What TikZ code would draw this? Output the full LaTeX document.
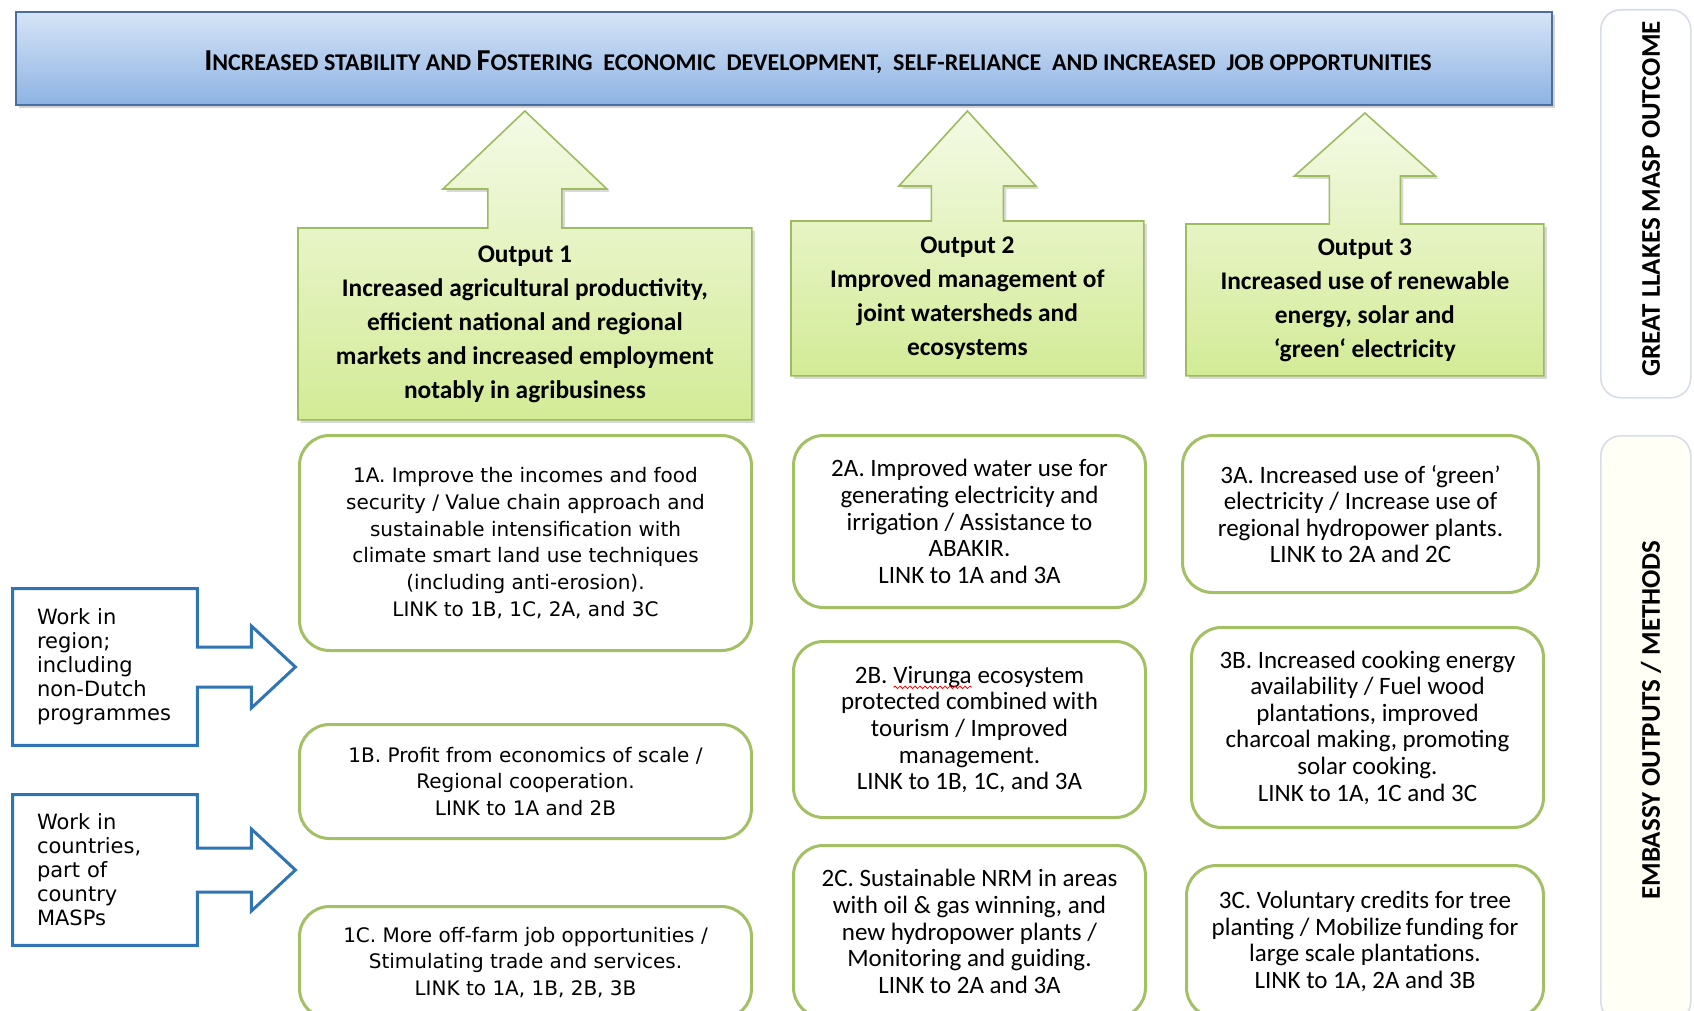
\documentclass[tikz,border=0pt]{standalone}
\usepackage{fontspec}
\setmainfont{Carlito}
\newfontfamily\verdfont{DejaVu Sans}
\usepackage{tikz}
\usepackage{xcolor}
\usetikzlibrary{positioning,calc,shadows,backgrounds,decorations.pathmorphing}
\definecolor{SkyTop}{HTML}{D6E4F7}
\definecolor{SkyBot}{HTML}{8EB3E3}
\definecolor{SkyLine}{HTML}{4C6E9E}
\definecolor{LeafTop}{HTML}{F4FAE6}
\definecolor{LeafBot}{HTML}{D3EB96}
\definecolor{LeafLine}{HTML}{9DBB5F}
\definecolor{Olive}{HTML}{A3C064}
\definecolor{Azure}{HTML}{2F75B5}
\definecolor{Mist}{HTML}{D6DDE7}
\definecolor{Ivory}{HTML}{FFFFF5}
\newcommand\capfirst[1]{{\fontsize{15.2}{15.2}\selectfont #1}}
\newcommand\spellmark[1]{\tikz[baseline=(sw.base),x=1pt,y=1pt]{%
  \node[shape=rectangle,draw=none,fill=none,inner sep=0pt,outer sep=0pt,minimum width=0pt,
    minimum height=0pt,anchor=base,sharp corners,align=left] (sw) at (0,0) {#1};
  \draw[red,line width=0.4pt,fill=none,sharp corners,decorate,
    decoration={snake,amplitude=0.6pt,segment length=2.5pt}]
    ([yshift=-2pt]sw.base west) -- ([yshift=-2pt]sw.base east);}}
\tikzset{
  goalbar/.style={draw=SkyLine, line width=0.8pt, top color=SkyTop, bottom color=SkyBot,
    drop shadow={opacity=0.35,shadow xshift=1.5pt,shadow yshift=-1.5pt}, inner sep=0pt, anchor=north west},
  goaltext/.style={font=\fontsize{12}{12}\selectfont\bfseries, inner sep=0pt},
  outshape/.style={draw=LeafLine, line width=0.8pt, top color=LeafTop, bottom color=LeafBot,
    drop shadow={opacity=0.3,shadow xshift=1.5pt,shadow yshift=-1.5pt}},
  outtext/.style={font=\fontsize{12.7}{17}\selectfont\bfseries, align=center, inner sep=0pt, anchor=north west},
  linkbox/.style={draw=Olive, line width=1.5pt, rounded corners=15pt, fill=white, align=center,
    inner sep=0pt, anchor=north west, font=\fontsize{12.5}{13.3}\selectfont},
  linkwide/.style={linkbox, font=\verdfont\fontsize{10}{13.4}\selectfont},
  workbox/.style={align=left, text width=68pt, inner xsep=12pt, inner ysep=0pt, minimum width=92pt,
    font=\verdfont\fontsize{10.5}{12}\selectfont},
  workline/.style={draw=Azure, line width=1.5pt},
  sidebox/.style={draw=Mist, line width=0.8pt, rounded corners=10pt, inner sep=0pt, anchor=north west},
  sidetext/.style={rotate=90, font=\fontsize{13.5}{13.5}\selectfont\bfseries}
}

\begin{document}
\begin{tikzpicture}[x=0.5pt,y=-0.5pt]
  \useasboundingbox (0,0) rectangle (1694,1011);

  % outcome bar
  \node[goalbar, minimum width=768pt, minimum height=46.5pt] (goal) at (15,11) {};
  \node[goaltext] (goalline) at (818,62) {\capfirst{I}NCREASED STABILITY AND \capfirst{F}OSTERING\ \ ECONOMIC\ \ DEVELOPMENT,\ \ SELF-RELIANCE\ \ AND INCREASED\ \ JOB OPPORTUNITIES};

  % side labels
  \node[sidebox, fill=white, minimum width=45pt, minimum height=194pt] (sidetop) at (1600,9) {};
  \node[sidebox, fill=Ivory, minimum width=45pt, minimum height=293pt] (sidebot) at (1600,435) {};
  \node[sidetext] (sidetoplbl) at (1651,199) {GREAT LLAKES MASP OUTCOME};
  \node[sidetext] (sidebotlbl) at (1651,720) {EMBASSY OUTPUTS / METHODS};

  % outputs
  \node[outtext, minimum width=226.5pt, minimum height=95.5pt] (out1) at (298,228)
    {Output 1\\Increased agricultural productivity,\\efficient national and regional\\markets and increased employment\\notably in agribusiness};
  \node[outtext, minimum width=176pt, minimum height=77pt] (out2) at (791,221)
    {Output 2\\Improved management of\\joint watersheds and\\ecosystems};
  \node[outtext, minimum width=178.5pt, minimum height=75.5pt] (out3) at (1186,224)
    {Output 3\\Increased use of renewable\\energy, solar and\\‘green‘ electricity};

  \begin{scope}[on background layer]
    \path[outshape] (out1.north west) -- ($(out1.north)+(-37,0)$) -- ($(out1.north)+(-37,-39)$)
      -- ($(out1.north)+(-82,-39)$) -- ($(out1.north)+(0,-117)$) -- ($(out1.north)+(82,-39)$)
      -- ($(out1.north)+(37,-39)$) -- ($(out1.north)+(37,0)$) -- (out1.north east)
      -- (out1.south east) -- (out1.south west) -- cycle;
    \path[outshape] (out2.north west) -- ($(out2.north)+(-36,0)$) -- ($(out2.north)+(-36,-35)$)
      -- ($(out2.north)+(-68.5,-35)$) -- ($(out2.north)+(0,-110)$) -- ($(out2.north)+(68.5,-35)$)
      -- ($(out2.north)+(36,-35)$) -- ($(out2.north)+(36,0)$) -- (out2.north east)
      -- (out2.south east) -- (out2.south west) -- cycle;
    \path[outshape] (out3.north west) -- ($(out3.north)+(-35.5,0)$) -- ($(out3.north)+(-35.5,-48)$)
      -- ($(out3.north)+(-70.5,-48)$) -- ($(out3.north)+(0,-111)$) -- ($(out3.north)+(70.5,-48)$)
      -- ($(out3.north)+(35.5,-48)$) -- ($(out3.north)+(35.5,0)$) -- (out3.north east)
      -- (out3.south east) -- (out3.south west) -- cycle;
  \end{scope}

  % embassy outputs
  \node[linkwide, minimum width=226pt, minimum height=107.5pt] (link1a) at (298,434)
    {1A. Improve the incomes and food\\security / Value chain approach and\\sustainable intensification with\\climate smart land use techniques\\(including anti-erosion).\\LINK to 1B, 1C, 2A, and 3C};
  \node[linkwide, minimum width=226pt, minimum height=57pt] (link1b) at (298,723)
    {1B. Profit from economics of scale /\\Regional cooperation.\\LINK to 1A and 2B};
  \node[linkwide, minimum width=226pt, minimum height=56pt] (link1c) at (298,905)
    {1C. More off-farm job opportunities /\\Stimulating trade and services.\\LINK to 1A, 1B, 2B, 3B};
  \node[linkbox, minimum width=176pt, minimum height=86pt] (link2a) at (792,434)
    {2A. Improved water use for\\generating electricity and\\irrigation / Assistance to\\ABAKIR.\\LINK to 1A and 3A};
  \node[linkbox, minimum width=176pt, minimum height=88pt] (link2b) at (792,640)
    {2B. \spellmark{Virunga} ecosystem\\protected combined with\\tourism / Improved\\management.\\LINK to 1B, 1C, and 3A};
  \node[linkbox, minimum width=176pt, minimum height=86pt] (link2c) at (792,844)
    {2C. Sustainable NRM in areas\\with oil \& gas winning, and\\new hydropower plants /\\Monitoring and guiding.\\LINK to 2A and 3A};
  \node[linkbox, minimum width=178pt, minimum height=78.5pt] (link3a) at (1181,434)
    {3A. Increased use of ‘green’\\electricity / Increase use of\\regional hydropower plants.\\LINK to 2A and 2C};
  \node[linkbox, minimum width=176pt, minimum height=100pt] (link3b) at (1190,626)
    {3B. Increased cooking energy\\availability / Fuel wood\\plantations, improved\\charcoal making, promoting\\solar cooking.\\LINK to 1A, 1C and 3C};
  \node[linkbox, minimum width=178.5pt, minimum height=76pt] (link3c) at (1185,864)
    {3C. Voluntary credits for tree\\planting / Mobilize\,funding for\\large scale plantations.\\LINK to 1A, 2A and 3B};

  % ways of working
  \node[workbox, minimum height=78pt] (workreg) at (105,667)
    {Work in\\region;\\including\\non-Dutch\\programmes};
  \node[workbox, minimum height=75pt] (workctry) at (105,870)
    {Work in\\countries,\\part of\\country\\MASPs};
  \draw[workline] (workreg.north west) -- (workreg.north east) -- ($(workreg.east)+(0,-20)$)
    -- ($(workreg.east)+(54,-20)$) -- ($(workreg.east)+(54,-41)$) -- ($(workreg.east)+(98,0)$)
    -- ($(workreg.east)+(54,41)$) -- ($(workreg.east)+(54,20)$) -- ($(workreg.east)+(0,20)$)
    -- (workreg.south east) -- (workreg.south west) -- cycle;
  \draw[workline] (workctry.north west) -- (workctry.north east) -- ($(workctry.east)+(0,-22)$)
    -- ($(workctry.east)+(54,-22)$) -- ($(workctry.east)+(54,-41)$) -- ($(workctry.east)+(98,0)$)
    -- ($(workctry.east)+(54,41)$) -- ($(workctry.east)+(54,22)$) -- ($(workctry.east)+(0,22)$)
    -- (workctry.south east) -- (workctry.south west) -- cycle;
\end{tikzpicture}
\end{document}
